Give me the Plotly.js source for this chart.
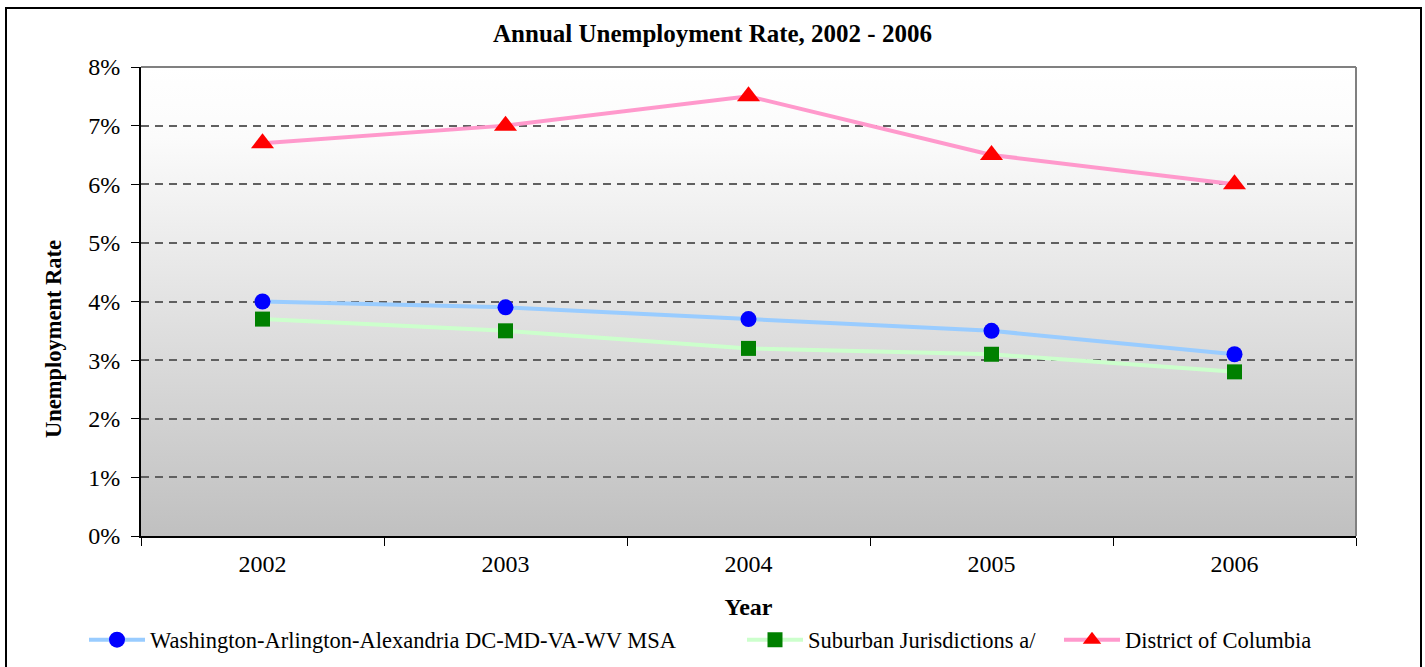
<!DOCTYPE html>
<html>
<head>
<meta charset="utf-8">
<script src="https://cdn.plot.ly/plotly-3.0.1.min.js"></script>
<style>
  html, body { margin: 0; padding: 0; background: #ffffff; }
  #chart { width: 1425px; height: 667px; }
</style>
</head>
<body>
<div id="chart"></div>
<script>
// ---- data ----
const years = ["2002", "2003", "2004", "2005", "2006"];
const seriesNames = [
  "Washington-Arlington-Alexandria DC-MD-VA-WV MSA",
  "Suburban Jurisdictions a/",
  "District of Columbia"
];
const msaRate = [4.0, 3.9, 3.7, 3.5, 3.1];
const suburbanRate = [3.7, 3.5, 3.2, 3.1, 2.8];
const dcRate = [6.7, 7.0, 7.5, 6.5, 6.0];
const yTickVals = [0, 1, 2, 3, 4, 5, 6, 7, 8];
const yTickText = ["0%", "1%", "2%", "3%", "4%", "5%", "6%", "7%", "8%"];

// ---- layout geometry (pixels) ----
const W = 1425, H = 667;
const L = 141, R = 1356, T = 67, B = 536;
const pw = R - L, ph = B - T;
const px = x => (x - L) / pw;
const py = y => (B - y) / ph;

const FONT = "Liberation Serif, Times New Roman, serif";

const gradSvg = "<svg xmlns='http://www.w3.org/2000/svg' viewBox='0 0 100 100' width='100' height='100' preserveAspectRatio='none'>" +
  "<defs><linearGradient id='g' x1='0' y1='0' x2='0' y2='1'>" +
  "<stop offset='0' stop-color='#ffffff'/><stop offset='0.15' stop-color='#fbfbfb'/><stop offset='1' stop-color='#c0c0c0'/>" +
  "</linearGradient></defs><rect x='0' y='0' width='100' height='100' fill='url(#g)'/></svg>";

const traces = [
  {
    x: years, y: msaRate, name: seriesNames[0], type: "scatter", mode: "lines+markers",
    line: { color: "#99ccff", width: 4 },
    marker: { color: "#0000ff", symbol: "circle", size: 16 },
    legend: "legend", cliponaxis: false, hoverinfo: "skip"
  },
  {
    x: years, y: suburbanRate, name: seriesNames[1], type: "scatter", mode: "lines+markers",
    line: { color: "#ccffcc", width: 4 },
    marker: { color: "#008000", symbol: "square", size: 15 },
    legend: "legend2", cliponaxis: false, hoverinfo: "skip"
  },
  {
    x: years, y: dcRate, name: seriesNames[2], type: "scatter", mode: "lines+markers",
    line: { color: "#ff99cc", width: 4 },
    marker: { color: "#ff0000", symbol: "triangle-up", size: 20 },
    legend: "legend3", cliponaxis: false, hoverinfo: "skip"
  }
];

const legendBase = {
  orientation: "h", yanchor: "middle", xanchor: "left",
  y: py(640), bgcolor: "rgba(0,0,0,0)", borderwidth: 0,
  font: { family: FONT, size: 22.5, color: "#000000" },
  itemwidth: 56, itemclick: false, itemdoubleclick: false
};

const layout = {
  width: W, height: H,
  margin: { l: L, r: W - R, t: T, b: H - B, pad: 0, autoexpand: false },
  paper_bgcolor: "#ffffff",
  plot_bgcolor: "rgba(0,0,0,0)",
  showlegend: true,
  title: {
    text: "<b>Annual Unemployment Rate, 2002 - 2006</b>",
    font: { family: FONT, size: 25, color: "#000000" },
    x: 0.5, xref: "container", xanchor: "center",
    y: 1 - 33 / H, yref: "container", yanchor: "middle"
  },
  xaxis: {
    type: "category", range: [-0.5, 4.5],
    tickson: "boundaries", ticks: "outside", ticklen: 8, tickwidth: 1, tickcolor: "#000000",
    showline: true, linecolor: "#000000", linewidth: 2,
    showgrid: false, zeroline: false,
    tickfont: { family: FONT, size: 24, color: "#000000" },
    ticklabelstandoff: 5,
    title: { text: "<b>Year</b>", font: { family: FONT, size: 24, color: "#000000" }, standoff: 22 },
    fixedrange: true
  },
  yaxis: {
    range: [0, 8], tickvals: yTickVals, ticktext: yTickText,
    ticks: "outside", ticklen: 8, tickwidth: 1, tickcolor: "#000000",
    showline: true, linecolor: "#000000", linewidth: 2,
    showgrid: true, gridcolor: "#606060", gridwidth: 2, griddash: "8px,6px",
    zeroline: false,
    tickfont: { family: FONT, size: 24, color: "#000000" },
    ticklabelstandoff: 6,
    fixedrange: true
  },
  legend: Object.assign({}, legendBase, { x: px(84) }),
  legend2: Object.assign({}, legendBase, { x: px(742) }),
  legend3: Object.assign({}, legendBase, { x: px(1059) }),
  images: [{
    source: "data:image/svg+xml;base64," + btoa(gradSvg),
    xref: "paper", yref: "paper", x: 0, y: 1, sizex: 1, sizey: 1,
    xanchor: "left", yanchor: "top", sizing: "stretch", layer: "below"
  }],
  annotations: [{
    text: "<b>Unemployment Rate</b>", textangle: -90,
    xref: "paper", yref: "paper", x: px(53), y: py(339),
    xanchor: "center", yanchor: "middle", showarrow: false,
    font: { family: FONT, size: 22.5, color: "#000000" }
  }],
  shapes: [
    // plot area border top & right (gray)
    { type: "line", xref: "paper", yref: "paper", x0: 0, x1: 1, y0: 1, y1: 1,
      line: { color: "#808080", width: 2 }, layer: "above" },
    { type: "line", xref: "paper", yref: "paper", x0: 1, x1: 1, y0: 0, y1: 1,
      line: { color: "#808080", width: 2 }, layer: "above" },
    // outer chart frame
    { type: "rect", xref: "paper", yref: "paper",
      x0: px(6), x1: px(1421), y0: py(680), y1: py(8),
      line: { color: "#000000", width: 2 }, fillcolor: "rgba(0,0,0,0)", layer: "above" }
  ]
};

Plotly.newPlot("chart", traces, layout, { displayModeBar: false, staticPlot: true });
</script>
</body>
</html>
